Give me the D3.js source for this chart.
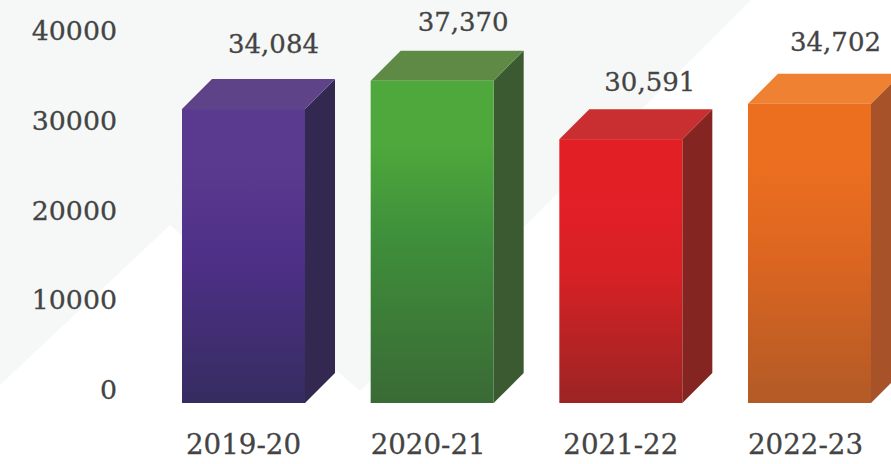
<!DOCTYPE html>
<html>
<head>
<meta charset="utf-8">
<script src="https://cdn.jsdelivr.net/npm/d3@7/dist/d3.min.js"></script>
<style>
  html, body { margin: 0; padding: 0; background: #fff; overflow: hidden; }
  svg { display: block; }
  text { font-family: "DejaVu Serif", serif; fill: #444; stroke: #444; stroke-width: 0.3px; }
</style>
</head>
<body>
<svg id="chart" width="891" height="464"></svg>
<script>
// Yearly totals
const years = ["2019-20", "2020-21", "2021-22", "2022-23"];
const totals = [34084, 37370, 30591, 34702];
const axisTicks = [0, 10000, 20000, 30000, 40000];

// Face colours per bar: front top, middle and bottom, cap, side
const frontTop = ["#593a8e", "#4ea83b", "#e31f26", "#ec6f20"];
const frontMid = ["#4f3088", "#3e8e3b", "#d82125", "#dd6620"];
const frontBottom = ["#352c60", "#3a6a35", "#9b2424", "#b25a26"];
const capFill = ["#5f4389", "#5f8a45", "#c92f30", "#ef8133"];
const sideFill = ["#332850", "#3b5a31", "#852522", "#a8522a"];

// Hand placement of the value and year captions
const valueNudgeX = [30, 31, 29, 26];
const valueNudgeY = [-56, -50, -48, -53];
const yearNudgeX = [0, -4, 0, -4];

const svg = d3.select("#chart");
const depth = 30;

// Pale backdrop panel
svg.append("path")
  .attr("d", "M0,0L751,0L360,391L170,225L0,385Z")
  .attr("fill", "#f5f8f7");

const x = d3.scaleBand().domain(years).range([182, 871]).paddingInner(0.348).paddingOuter(0);
const barY = d3.scaleLinear().domain([0, 40000]).range([403, 58]);
const axisY = d3.scaleLinear().domain([0, 40000]).range([390, 31]);

const defs = svg.append("defs");
years.forEach((yr, i) => {
  const g = defs.append("linearGradient")
    .attr("id", "front" + i).attr("x1", 0).attr("y1", 0).attr("x2", 0).attr("y2", 1);
  g.append("stop").attr("offset", "0%").attr("stop-color", frontTop[i]);
  g.append("stop").attr("offset", "20%").attr("stop-color", frontTop[i]);
  g.append("stop").attr("offset", "50%").attr("stop-color", frontMid[i]);
  g.append("stop").attr("offset", "100%").attr("stop-color", frontBottom[i]);
});

const bars = svg.append("g").selectAll("g").data(years).join("g");

// Side face
bars.append("path")
  .attr("fill", (d, i) => sideFill[i])
  .attr("d", (d, i) => {
    const r = x(d) + x.bandwidth(), t = barY(totals[i]), b = barY(0);
    return d3.line()([[r, t], [r + depth, t - depth], [r + depth, b - depth], [r, b]]);
  });

// Cap
bars.append("path")
  .attr("fill", (d, i) => capFill[i])
  .attr("d", (d, i) => {
    const l = x(d), r = l + x.bandwidth(), t = barY(totals[i]);
    return d3.line()([[l, t], [l + depth, t - depth], [r + depth, t - depth], [r, t]]);
  });

// Front face
bars.append("rect")
  .attr("x", d => x(d))
  .attr("width", x.bandwidth())
  .attr("y", (d, i) => barY(totals[i]))
  .attr("height", (d, i) => barY(0) - barY(totals[i]))
  .attr("fill", (d, i) => `url(#front${i})`);

// Value captions
svg.append("g").selectAll("text").data(totals).join("text")
  .attr("text-anchor", "middle")
  .style("font-size", "26px")
  .attr("x", (d, i) => x(years[i]) + x.bandwidth() / 2 + valueNudgeX[i])
  .attr("y", (d, i) => barY(d) + valueNudgeY[i])
  .text(d3.format(","));

// Vertical axis: labels only
const yAxis = svg.append("g")
  .attr("transform", "translate(117,0)")
  .call(d3.axisLeft(axisY).tickValues(axisTicks).tickSize(0).tickPadding(0).tickFormat(d3.format("d")));
yAxis.select(".domain").remove();
yAxis.selectAll("text").style("font-size", "26.8px").style("font-family", '"DejaVu Serif", serif').attr("fill", "#444");

// Horizontal axis: labels only
const xAxis = svg.append("g")
  .attr("transform", "translate(0,434)")
  .call(d3.axisBottom(x).tickSize(0).tickPadding(0));
xAxis.select(".domain").remove();
xAxis.selectAll("text")
  .style("font-size", "27.7px").style("font-family", '"DejaVu Serif", serif').attr("fill", "#444")
  .attr("dx", (d, i) => yearNudgeX[i]);
</script>
</body>
</html>
